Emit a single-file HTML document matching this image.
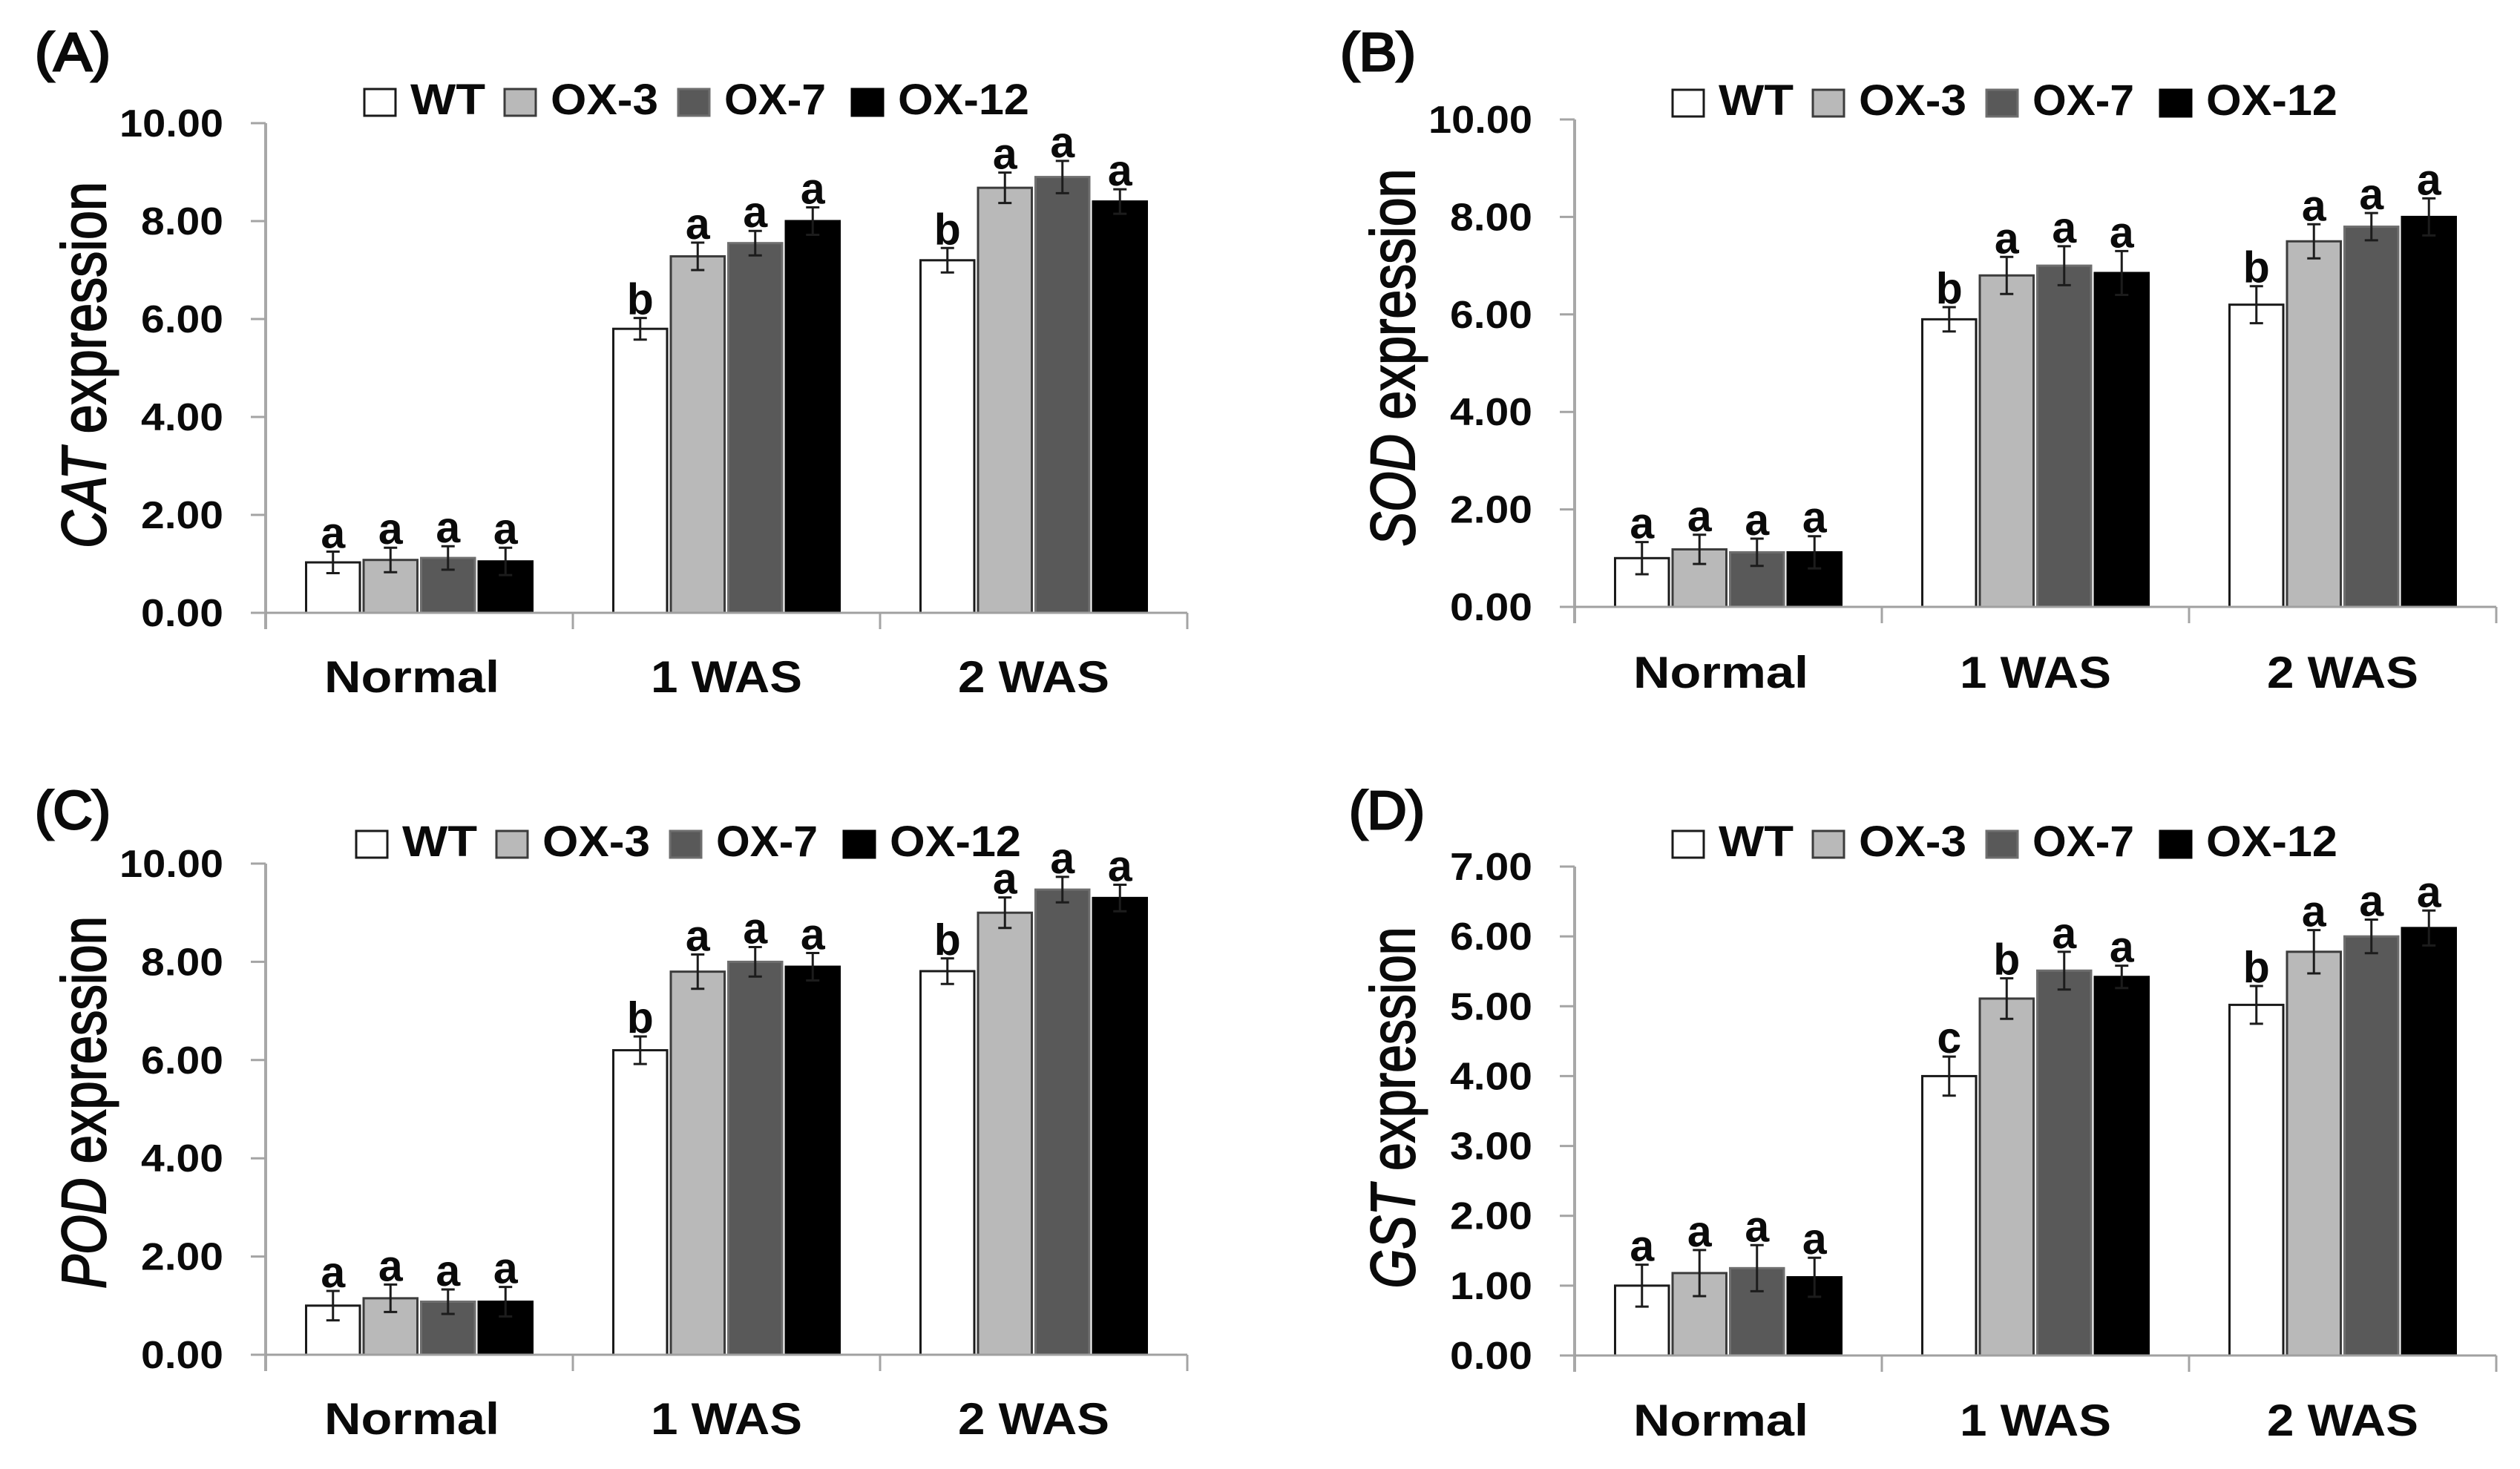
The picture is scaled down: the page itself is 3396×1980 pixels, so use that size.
<!DOCTYPE html>
<html lang="en">
<head>
<meta charset="utf-8">
<title>Antioxidant gene expression panels</title>
<style>
html,body{margin:0;padding:0;background:#fff;}
#figure{display:block;width:3396px;height:1980px;}
text{font-family:"Liberation Sans",sans-serif;fill:#0a0a0a;}
</style>
</head>
<body>
<svg id="figure" xmlns="http://www.w3.org/2000/svg" width="3396" height="1980" viewBox="0 0 3396 1980"></svg>
<script>
const categories = ['Normal', '1 WAS', '2 WAS'];
const seriesNames = ['WT', 'OX-3', 'OX-7', 'OX-12'];

const ticksTen = ['0.00', '2.00', '4.00', '6.00', '8.00', '10.00'];
const ticksSeven = ['0.00', '1.00', '2.00', '3.00', '4.00', '5.00', '6.00', '7.00'];

const catValues = [[1.03, 1.08, 1.12, 1.05], [5.8, 7.28, 7.55, 8.0], [7.2, 8.68, 8.9, 8.4]];
const catErrors = [[0.22, 0.25, 0.24, 0.28], [0.22, 0.28, 0.25, 0.28], [0.25, 0.31, 0.33, 0.25]];
const catLetters = [['a', 'a', 'a', 'a'], ['b', 'a', 'a', 'a'], ['b', 'a', 'a', 'a']];

const sodValues = [[1.0, 1.18, 1.12, 1.12], [5.9, 6.8, 7.0, 6.85], [6.2, 7.5, 7.8, 8.0]];
const sodErrors = [[0.33, 0.3, 0.28, 0.33], [0.25, 0.38, 0.4, 0.45], [0.38, 0.35, 0.28, 0.38]];
const sodLetters = [['a', 'a', 'a', 'a'], ['b', 'a', 'a', 'a'], ['b', 'a', 'a', 'a']];

const podValues = [[1.0, 1.15, 1.08, 1.08], [6.2, 7.8, 8.0, 7.9], [7.81, 9.0, 9.47, 9.3]];
const podErrors = [[0.3, 0.28, 0.25, 0.3], [0.28, 0.35, 0.3, 0.28], [0.26, 0.31, 0.26, 0.27]];
const podLetters = [['a', 'a', 'a', 'a'], ['b', 'a', 'a', 'a'], ['b', 'a', 'a', 'a']];

const gstValues = [[1.0, 1.18, 1.25, 1.12], [4.0, 5.11, 5.51, 5.42], [5.02, 5.78, 6.0, 6.12]];
const gstErrors = [[0.3, 0.33, 0.33, 0.28], [0.28, 0.29, 0.27, 0.16], [0.27, 0.31, 0.24, 0.25]];
const gstLetters = [['a', 'a', 'a', 'a'], ['c', 'b', 'a', 'a'], ['b', 'a', 'a', 'a']];

const NS = 'http://www.w3.org/2000/svg';
const figure = document.getElementById('figure');
const fills = ['#ffffff', '#b9b9b9', '#595959', '#000000'];
const strokes = ['#1a1a1a', '#3c3c3c', '#6e6e6e', '#000000'];

function make(tag, attrs, parent) {
  const el = document.createElementNS(NS, tag);
  for (const k in attrs) el.setAttribute(k, attrs[k]);
  parent.appendChild(el);
  return el;
}

function label(parent, str, x, y, size, weight, anchor, width) {
  const el = make('text', {x: x, y: y, 'font-size': size, 'font-weight': weight, 'text-anchor': anchor}, parent);
  el.textContent = str;
  if (width) {
    el.setAttribute('textLength', width);
    el.setAttribute('lengthAdjust', 'spacingAndGlyphs');
  }
  return el;
}

function drawPanel(p) {
  const g = make('g', {}, figure);
  
  

  const yScale = function (v) { return p.y0 - (v / p.yMax) * (p.y0 - p.yTop); };
  const catW = p.plotWidth / categories.length;
  const barW = 77.5;
  const xBand = function (c, s) { return p.left + catW * c + catW / 2 - barW * seriesNames.length / 2 + barW * s; };

  // panel letter
  const letter = label(g, '(' + p.id + ')', p.letterX, p.letterY, 72, 'normal', 'start', p.letterW);
  letter.setAttribute('stroke', '#0a0a0a');
  letter.setAttribute('stroke-width', '3');
  
  

  // y title
  const title = make('text', {
    transform: 'translate(' + (p.left - 216) + ' ' + p.titleY + ') rotate(-90)',
    'font-size': 84, 'text-anchor': 'middle',
    textLength: p.titleLen, lengthAdjust: 'spacingAndGlyphs',
    stroke: '#0a0a0a', 'stroke-width': 2
  }, g);
  
  
  const gene = make('tspan', {'font-style': 'italic'}, title);
  gene.textContent = p.gene;
  const rest = make('tspan', {}, title);
  rest.textContent = ' expression';

  // bars, error bars, letters
  categories.forEach(function (cat, c) {
    seriesNames.forEach(function (name, s) {
      const v = p.values[c][s];
      const e = p.errors[c][s];
      const x = xBand(c, s);
      const bar = make('rect', {
        x: x + 2.5, y: yScale(v), width: barW - 5, height: p.y0 - yScale(v),
        fill: fills[s], stroke: strokes[s], 'stroke-width': 3
      }, g);
      
      

      const cx = x + barW / 2;
      const err = make('path', {
        d: 'M' + (cx - 9) + ' ' + yScale(v + e) + 'H' + (cx + 9) +
           'M' + cx + ' ' + yScale(v + e) + 'V' + yScale(v - e) +
           'M' + (cx - 9) + ' ' + yScale(v - e) + 'H' + (cx + 9),
        fill: 'none', stroke: '#1c1c1c', 'stroke-width': 3
      }, g);
      
      

      const sig = label(g, p.letters[c][s], cx, yScale(v + e) - 5, 59, 'bold', 'middle');
      
      
    });
  });

  // axes
  const yAxis = make('line', {x1: p.left, x2: p.left, y1: p.yTop, y2: p.y0 + 22, stroke: '#a8a8a8', 'stroke-width': 4}, g);
  
  
  const xAxis = make('line', {x1: p.left - 20, x2: p.left + p.plotWidth, y1: p.y0, y2: p.y0, stroke: '#a0a0a0', 'stroke-width': 3}, g);
  
  

  p.ticks.forEach(function (t) {
    const y = yScale(parseFloat(t));
    const tick = make('line', {x1: p.left - 20, x2: p.left, y1: y, y2: y, stroke: '#a4a4a4', 'stroke-width': 3}, g);
    
    
    const tl = label(g, t, p.left - 57, y + 18, 52, 'bold', 'end', t.length === 5 ? 140 : 111);
    
    
  });

  for (let i = 1; i <= categories.length; i++) {
    const x = p.left + catW * i;
    const tick = make('line', {x1: x, x2: x, y1: p.y0, y2: p.y0 + 22, stroke: '#a4a4a4', 'stroke-width': 3}, g);
    
    
  }

  categories.forEach(function (cat, c) {
    const cx = p.left + catW * c + catW / 2 - (c === 0 ? 10 : 0);
    const tl = label(g, cat, cx, p.catY, 60, 'bold', 'middle', c === 0 ? 236 : 204);
    
    
  });

  // legend
  const swatchX = [0, 189, 423, 657];
  const textX = [62, 251, 485, 719];
  const textW = [101, 145, 137, 177];
  seriesNames.forEach(function (name, s) {
    const sw = make('rect', {
      x: p.legendX + swatchX[s], y: p.legendY, width: 42, height: 36,
      fill: fills[s], stroke: strokes[s], 'stroke-width': 3
    }, g);
    
    
    const lt = label(g, name, p.legendX + textX[s], p.legendY + 34, 58, 'bold', 'start', textW[s]);
    
    
  });
}

drawPanel({id: 'A', gene: 'CAT', left: 358, plotWidth: 1242, y0: 826, yTop: 166, yMax: 10, ticks: ticksTen,
  values: catValues, errors: catErrors, letters: catLetters, titleY: 492, titleLen: 494,
  letterX: 47, letterY: 95, letterW: 102, legendX: 491, legendY: 120, catY: 933});
drawPanel({id: 'B', gene: 'SOD', left: 2122, plotWidth: 1242, y0: 818, yTop: 161, yMax: 10, ticks: ticksTen,
  values: sodValues, errors: sodErrors, letters: sodLetters, titleY: 482, titleLen: 509,
  letterX: 1806, letterY: 95, letterW: 102, legendX: 2254, legendY: 121, catY: 927});
drawPanel({id: 'C', gene: 'POD', left: 358, plotWidth: 1242, y0: 1826, yTop: 1164, yMax: 10, ticks: ticksTen,
  values: podValues, errors: podErrors, letters: podLetters, titleY: 1486, titleLen: 502,
  letterX: 47, letterY: 1117, letterW: 102, legendX: 480, legendY: 1120, catY: 1933});
drawPanel({id: 'D', gene: 'GST', left: 2122, plotWidth: 1242, y0: 1827, yTop: 1168, yMax: 7, ticks: ticksSeven,
  values: gstValues, errors: gstErrors, letters: gstLetters, titleY: 1493, titleLen: 487,
  letterX: 1818, letterY: 1117, letterW: 102, legendX: 2254, legendY: 1120, catY: 1935});
</script>
</body>
</html>
